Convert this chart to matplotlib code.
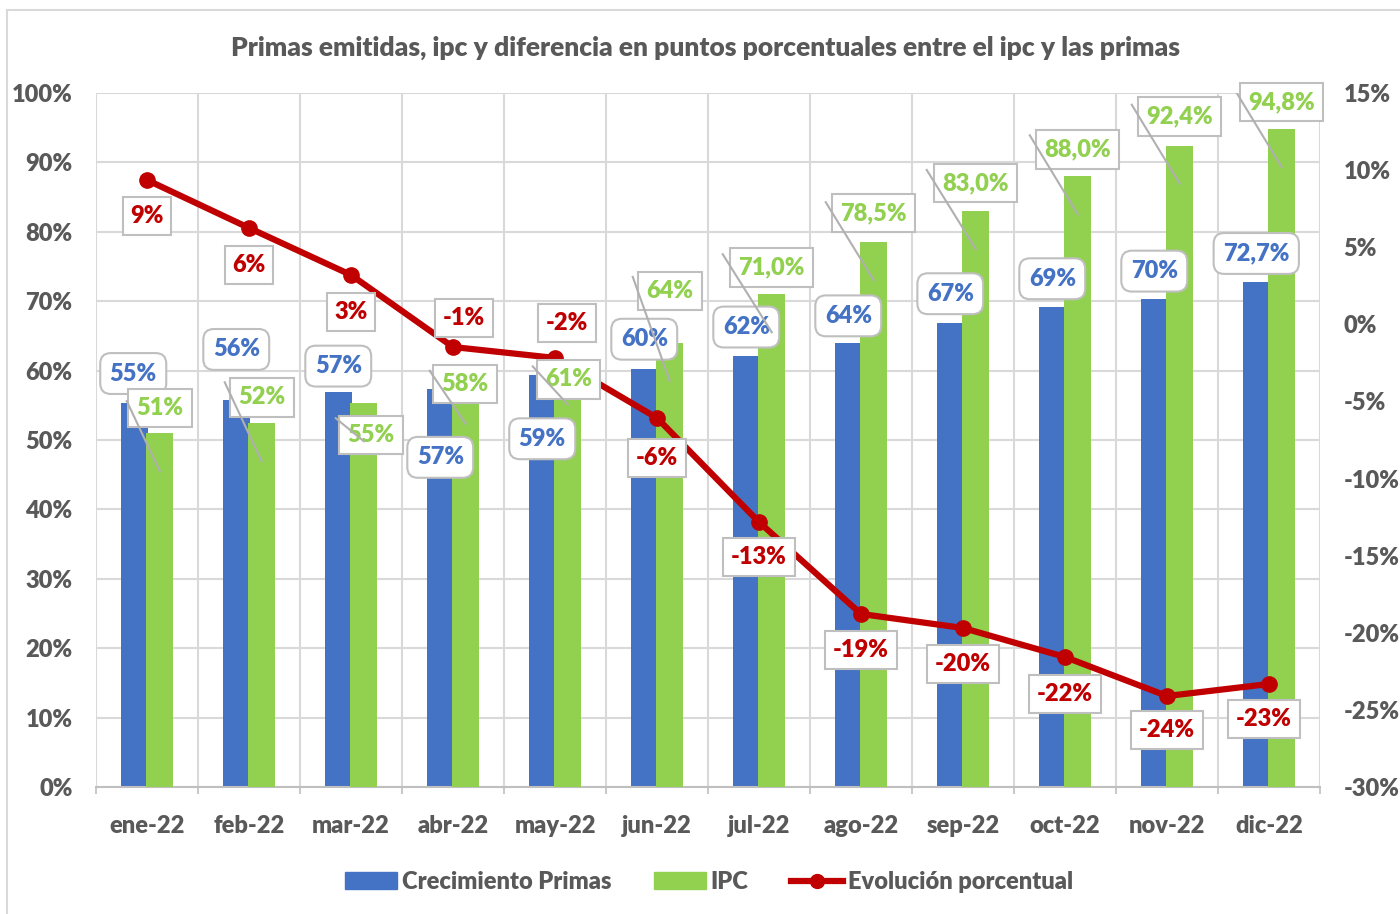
import matplotlib
matplotlib.use("Agg")
import matplotlib.pyplot as plt
from matplotlib.lines import Line2D
from matplotlib.patches import Patch
import numpy as np

plt.rcParams["font.family"] = ["Lato", "DejaVu Sans"]
plt.rcParams["font.weight"] = 800

months = ["ene-22", "feb-22", "mar-22", "abr-22", "may-22", "jun-22",
          "jul-22", "ago-22", "sep-22", "oct-22", "nov-22", "dic-22"]
primas = [55.4, 55.7, 56.9, 57.3, 59.4, 60.2, 62.1, 64.0, 66.9, 69.2, 70.3, 72.7]
ipc = [51.0, 52.4, 55.3, 57.8, 60.6, 64.0, 71.0, 78.5, 83.0, 88.0, 92.4, 94.8]
evolucion = [9.36, 6.25, 3.2, -1.47, -2.18, -6.07, -12.82, -18.78, -19.69, -21.57, -24.1, -23.32]
primas_dec = [0] * 11 + [1]
ipc_dec = [0] * 6 + [1] * 6

# label placement (pixels, relative to bar top / marker)
blue_off = [(-1, 29), (0, 51), (0, 26), (0, -68), (0, -64), (0, 30),
            (0, 29), (0, 27), (0, 29), (0, 28), (0, 28), (0, 29)]
green_off = [(0, 25), (0, 26), (7, -32), (-1, 2), (1, -13), (0, 52),
             (0, 27), (0, 29), (0, 28), (0, 27), (0, 29), (0, 27)]
leader_start = [(-33, 70), (-37, 79), (-28, 23), (-36, 53), (-35, 38), (-37, 104),
                (-49, 78), (-48, 78), (-49, 79), (-48, 79), (-48, 79), (-48, 79)]
red_off = [(0, -36), (0, -37), (0, -37), (11, 29), (12, 35), (0, -40),
           (0, -35), (0, -36), (0, -36), (0, -37), (0, -34), (-5, -35)]

BLUE, GREEN, RED = "#4472C4", "#92D050", "#C00000"
GRAY_TXT, GRID = "#595959", "#d9d9d9"

fig = plt.figure(figsize=(14, 9.14), dpi=100)
ax = fig.add_axes([96 / 1400, 1 - 787 / 914, 1224 / 1400, 694 / 914])
ax2 = ax.twinx()

x = np.arange(len(months))
w, off = 0.26, 0.125
ax.bar(x - off, primas, w, color=BLUE, zorder=2)
ax.bar(x + off, ipc, w, color=GREEN, zorder=3)

ax.set_xlim(-0.5, 11.5)
ax.set_ylim(0, 100)
ax.set_yticks(range(0, 101, 10))
ax.set_yticklabels([f"{v}%" for v in range(0, 101, 10)])
ax.set_xticks(x)
ax.set_xticklabels(months)
ax.set_xticks(np.arange(-0.5, 12, 1), minor=True)
ax.grid(axis="y", color=GRID, lw=1.5, zorder=0)
ax.grid(axis="x", which="minor", color=GRID, lw=1.5, zorder=0)
ax.set_axisbelow(True)
ax.tick_params(axis="y", length=0, pad=17, labelsize=17, labelcolor=GRAY_TXT)
ax.tick_params(axis="x", which="major", length=0, pad=20, labelsize=17, labelcolor=GRAY_TXT)
ax.tick_params(axis="x", which="minor", length=5, color="#bfbfbf", width=1.2)
for s in ["top", "right", "left"]:
    ax.spines[s].set_visible(False)
ax.spines["bottom"].set_color("#bfbfbf")
ax.spines["bottom"].set_linewidth(1.5)

ax2.plot(x, evolucion, color=RED, lw=4.5, marker="o", ms=11, zorder=3,
         solid_capstyle="round")
ax2.set_ylim(-30, 15)
ax2.set_yticks(range(-30, 16, 5))
ax2.set_yticklabels([f"{v}%" for v in range(-30, 16, 5)])
ax2.tick_params(axis="y", length=0, pad=17, labelsize=17, labelcolor=GRAY_TXT)
for s in ax2.spines.values():
    s.set_visible(False)

fs = 17
for i in range(len(months)):
    # blue labels (rounded boxes)
    ax2.annotate(f"{primas[i]:.{primas_dec[i]}f}%".replace(".", ","),
                 xy=(x[i] - off, primas[i]), xycoords=ax.transData,
                 xytext=blue_off[i], textcoords="offset pixels",
                 ha="center", va="center", fontsize=fs, color=BLUE, zorder=5,
                 bbox=dict(boxstyle="round,pad=0.4,rounding_size=0.45",
                           fc="white", ec="#bfbfbf", lw=1.5))
    # green labels (square boxes)
    ax2.annotate(f"{ipc[i]:.{ipc_dec[i]}f}%".replace(".", ","),
                 xy=(x[i] + off, ipc[i]), xycoords=ax.transData,
                 xytext=green_off[i], textcoords="offset pixels",
                 ha="center", va="center", fontsize=fs, color=GREEN, zorder=5,
                 bbox=dict(boxstyle="square,pad=0.35", fc="white", ec="#bfbfbf", lw=1.5))
    # red labels
    ax2.annotate(f"{evolucion[i]:.0f}%",
                 xy=(x[i], evolucion[i]), xycoords="data",
                 xytext=red_off[i], textcoords="offset pixels",
                 ha="center", va="center", fontsize=fs, color=RED, zorder=6,
                 bbox=dict(boxstyle="square,pad=0.33", fc="white", ec="#bfbfbf", lw=1.5))

# leader lines for ipc labels, drawn on top
for i in range(len(months)):
    tx, ty = ax.transData.transform((x[i] + off, ipc[i]))
    end = (tx, ty - 38)
    start = (end[0] + leader_start[i][0], end[1] + leader_start[i][1])
    ax2.add_line(Line2D([start[0], end[0]], [start[1], end[1]], transform=None,
                        color="#b0b0b0", lw=1.5, zorder=7))

fig.text(0.5036, 1 - 48 / 914,
         "Primas emitidas, ipc y diferencia en puntos porcentuales entre el ipc y las primas",
         ha="center", va="center", fontsize=19, color=GRAY_TXT)

handles = [Patch(color=BLUE), Patch(color=GREEN),
           Line2D([], [], color=RED, lw=4.5, marker="o", ms=10)]
fig.legend(handles, ["Crecimiento Primas", "IPC", "Evolución porcentual"],
           loc="center", bbox_to_anchor=(709 / 1400, 1 - 882 / 914), ncol=3,
           frameon=False, fontsize=17, labelcolor=GRAY_TXT, handlelength=2.2,
           handleheight=0.75, handletextpad=0.2, columnspacing=1.8)

# outer frame
fig.add_artist(Line2D([7 / 1400, 7 / 1400], [0, 1 - 10 / 914], transform=fig.transFigure,
                      color=GRID, lw=1.5))
fig.add_artist(Line2D([7 / 1400, 1], [1 - 10 / 914, 1 - 10 / 914], transform=fig.transFigure,
                      color=GRID, lw=1.5))

fig.savefig("out.png", dpi=100)
